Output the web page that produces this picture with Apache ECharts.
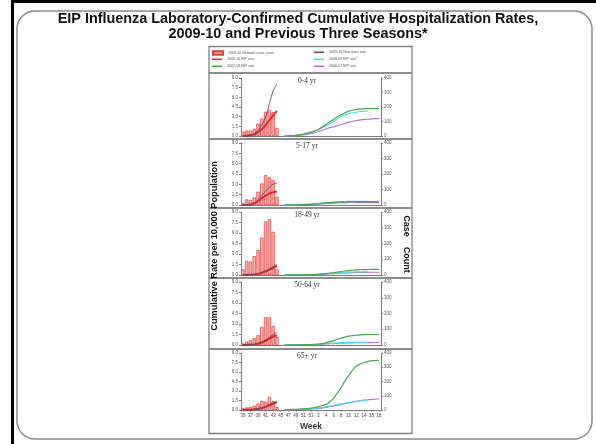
<!DOCTYPE html>
<html><head><meta charset="utf-8">
<script src="https://cdn.jsdelivr.net/npm/echarts@6/dist/echarts.min.js"></script>
<style>html,body{margin:0;padding:0;background:#fff}#c{width:596px;height:444px}</style>
</head><body><div id="c"></div>
<script>
// ---- categories (epi week) ----
const weeks = [35,36,37,38,39,40,41,42,43,44,45,46,47,48,49,50,51,52,53,1,2,3,4,5,6,7,8,9,10,11,12,13,14,15,16,17,18];
const panelTitles = ['0-4 yr','5-17 yr','18-49 yr','50-64 yr','65+ yr'];
const leftTicks = [0, 9, 1.5];   // min, max, interval (rate)
const rightTicks = [0, 400, 100]; // min, max, interval (case count)

// ---- 2009-10 season, weeks 35..44 ----
const counts04   = [30, 38, 38, 50, 86, 121, 167, 179, 165, 55];
const counts517  = [11, 36, 32, 49, 86, 139, 193, 178, 160, 53];
const counts1849 = [36, 90, 85, 120, 158, 238, 340, 354, 274, 36];
const counts5064 = [10, 21, 30, 42, 63, 116, 176, 176, 120, 53];
const counts65   = [12, 18, 23, 30, 45, 64, 58, 92, 64, 20];

const newSites04   = [0.02, 0.05, 0.12, 0.3, 0.85, 1.7, 2.9, 5.0, 7.0, 8.1];
const eip04        = [0.02, 0.05, 0.15, 0.3, 0.6, 1.05, 1.7, 2.45, 3.2, 3.9];
const newSites517  = [0.01, 0.03, 0.08, 0.24, 0.7, 1.4, 2.0, 2.6, 3.05, 3.15];
const eip517       = [0.01, 0.03, 0.08, 0.25, 0.55, 1.0, 1.35, 1.7, 1.85, 1.95];
const newSites1849 = [0.01, 0.02, 0.05, 0.1, 0.2, 0.4, 0.6, 0.9, 1.2, 1.5];
const eip1849      = [0.01, 0.02, 0.04, 0.08, 0.15, 0.3, 0.5, 0.75, 1.0, 1.3];
const newSites5064 = [0.01, 0.02, 0.05, 0.1, 0.2, 0.4, 0.75, 1.1, 1.5, 1.8];
const eip5064      = [0.01, 0.02, 0.04, 0.08, 0.18, 0.35, 0.6, 0.9, 1.2, 1.4];
const newSites65   = [0.01, 0.02, 0.05, 0.1, 0.2, 0.35, 0.55, 0.8, 1.1, 1.35];
const eip65        = [0.01, 0.02, 0.04, 0.08, 0.18, 0.3, 0.5, 0.75, 1.0, 1.25];

// ---- previous seasons, starting week 46 ----
const prevStartWeek = 46;
const s0708_04 = [0, 0.02, 0.05, 0.1, 0.2, 0.3, 0.45, 0.6, 0.8, 1.05, 1.4, 1.8, 2.2, 2.6, 3.0, 3.3, 3.6, 3.85, 4.0, 4.1, 4.2, 4.22, 4.25, 4.25, 4.25, 4.25];
const s0809_04 = [0, 0.02, 0.05, 0.1, 0.2, 0.3, 0.4, 0.55, 0.75, 1.0, 1.3, 1.6, 1.9, 2.3, 2.7, 3.05, 3.3, 3.5, 3.6, 3.7, 3.8, 3.82, 3.85];
const s0607_04 = [0, 0.02, 0.04, 0.08, 0.12, 0.18, 0.25, 0.35, 0.5, 0.7, 0.9, 1.1, 1.3, 1.45, 1.6, 1.8, 1.95, 2.15, 2.3, 2.4, 2.5, 2.55, 2.6, 2.65, 2.7, 2.7];
const s0708_517 = [0, 0.01, 0.02, 0.03, 0.05, 0.07, 0.1, 0.13, 0.17, 0.21, 0.26, 0.31, 0.35, 0.39, 0.42, 0.45, 0.47, 0.48, 0.49, 0.5, 0.5, 0.5, 0.5, 0.5, 0.5, 0.5];
const s0809_517 = [0, 0.01, 0.02, 0.03, 0.05, 0.07, 0.1, 0.13, 0.17, 0.22, 0.28, 0.33, 0.38, 0.42, 0.46, 0.49, 0.51, 0.53, 0.54, 0.55, 0.55, 0.55, 0.55];
const s0607_517 = [0, 0.01, 0.01, 0.02, 0.03, 0.05, 0.07, 0.09, 0.12, 0.15, 0.18, 0.21, 0.24, 0.26, 0.28, 0.3, 0.31, 0.32, 0.33, 0.34, 0.34, 0.35, 0.35, 0.35, 0.35, 0.35];
const s0708_1849 = [0, 0.01, 0.01, 0.02, 0.03, 0.04, 0.05, 0.07, 0.09, 0.12, 0.16, 0.21, 0.27, 0.34, 0.42, 0.5, 0.57, 0.63, 0.68, 0.72, 0.75, 0.77, 0.78, 0.79, 0.8, 0.8];
const s0809_1849 = [0, 0.01, 0.01, 0.02, 0.03, 0.04, 0.05, 0.07, 0.09, 0.12, 0.16, 0.2, 0.24, 0.28, 0.32, 0.36, 0.39, 0.41, 0.43, 0.44, 0.45, 0.45, 0.45];
const s0607_1849 = [0, 0.01, 0.01, 0.02, 0.02, 0.03, 0.04, 0.05, 0.07, 0.09, 0.11, 0.14, 0.17, 0.2, 0.23, 0.26, 0.29, 0.31, 0.33, 0.35, 0.36, 0.37, 0.38, 0.39, 0.4, 0.4];
const s0708_5064 = [0, 0.01, 0.01, 0.02, 0.03, 0.04, 0.05, 0.07, 0.1, 0.14, 0.2, 0.3, 0.45, 0.62, 0.8, 0.98, 1.13, 1.26, 1.35, 1.42, 1.46, 1.48, 1.5, 1.5, 1.5, 1.5];
const s0809_5064 = [0, 0.01, 0.01, 0.02, 0.03, 0.04, 0.05, 0.07, 0.09, 0.12, 0.15, 0.19, 0.23, 0.27, 0.31, 0.34, 0.36, 0.38, 0.39, 0.4, 0.4, 0.4, 0.4];
const s0607_5064 = [0, 0.01, 0.01, 0.02, 0.02, 0.03, 0.04, 0.05, 0.07, 0.09, 0.11, 0.14, 0.17, 0.2, 0.23, 0.26, 0.28, 0.3, 0.31, 0.32, 0.33, 0.34, 0.34, 0.35, 0.35, 0.35];
const s0708_65 = [0.05, 0.08, 0.1, 0.12, 0.15, 0.18, 0.22, 0.3, 0.4, 0.55, 0.7, 0.9, 1.3, 1.9, 2.7, 3.6, 4.6, 5.5, 6.3, 6.9, 7.25, 7.5, 7.65, 7.75, 7.8, 7.85];
const s0809_65 = [0.02, 0.04, 0.06, 0.08, 0.1, 0.13, 0.16, 0.2, 0.25, 0.32, 0.4, 0.5, 0.62, 0.75, 0.87, 0.98, 1.08, 1.18, 1.27, 1.36, 1.45, 1.53, 1.6];
const s0607_65 = [0.01, 0.02, 0.03, 0.05, 0.07, 0.09, 0.12, 0.15, 0.2, 0.26, 0.33, 0.42, 0.52, 0.64, 0.76, 0.88, 1.0, 1.12, 1.24, 1.36, 1.47, 1.56, 1.63, 1.68, 1.72, 1.75];

const panels = [
  {counts: counts04,   ns: newSites04,   eip: eip04,   a: s0809_04,   b: s0708_04,   c: s0607_04},
  {counts: counts517,  ns: newSites517,  eip: eip517,  a: s0809_517,  b: s0708_517,  c: s0607_517},
  {counts: counts1849, ns: newSites1849, eip: eip1849, a: s0809_1849, b: s0708_1849, c: s0607_1849},
  {counts: counts5064, ns: newSites5064, eip: eip5064, a: s0809_5064, b: s0708_5064, c: s0607_5064},
  {counts: counts65,   ns: newSites65,   eip: eip65,   a: s0809_65,   b: s0708_65,   c: s0607_65}
];

const gridBoxes = [[78,58],[143,62],[212,63],[282,63],[353,57]];
const N_BAR = '2009-10 Network case count', N_NS = '2009-10 New sites rate', N_EIP = '2009-10 EIP rate',
      N_A = '2008-09 EIP rate*', N_B = '2007-08 EIP rate', N_C = '2006-07 EIP rate';
const C_RED = '#e8262c', C_NS = '#555555', C_A = '#3fe3ef', C_B = '#47a84c', C_C = '#b36fcb';

const prevIdx = weeks.indexOf(prevStartWeek);
const pad = (arr, n) => Array(n).fill(null).concat(arr);

const grid = [], xAxis = [], yAxis = [], series = [], title = [];
title.push({text: 'EIP Influenza Laboratory-Confirmed Cumulative Hospitalization Rates,\n2009-10 and Previous Three Seasons*',
  left: 'center', top: 11, padding: 0,
  textStyle: {fontFamily: 'Liberation Sans, Arial', fontWeight: 'bold', fontSize: 14.4, lineHeight: 15.5, color: '#111'}});
const axisGray = '#7a7a7a';
panels.forEach((p, i) => {
  const [top, h] = gridBoxes[i];
  const last = i === panels.length - 1;
  grid.push({left: 241, width: 140, top: top, height: h, containLabel: false});
  title.push({text: panelTitles[i], left: 307, top: top - 0.5, textAlign: 'center', padding: 0,
    textStyle: {fontFamily: 'Liberation Serif, serif', fontWeight: 'normal', fontSize: 7.5, color: '#333'}});
  xAxis.push({type: 'category', gridIndex: i, data: weeks, boundaryGap: true,
    axisLine: {lineStyle: {color: axisGray, width: 1}},
    axisTick: {show: last, interval: 1, alignWithLabel: true, length: 1.5, lineStyle: {color: axisGray}},
    axisLabel: {show: last, interval: 1, fontSize: 4.5, color: '#444', margin: 3, fontFamily: 'Liberation Sans'},
    name: last ? 'Week' : '', nameLocation: 'middle', nameGap: 12,
    nameTextStyle: {fontFamily: 'Liberation Sans', fontWeight: 'bold', fontSize: 8.5, color: '#333'}});
  yAxis.push({type: 'value', gridIndex: i, position: 'left', min: leftTicks[0], max: leftTicks[1], interval: leftTicks[2],
    axisLine: {show: true, lineStyle: {color: axisGray}}, axisTick: {show: true, length: 2, lineStyle: {color: axisGray}},
    splitLine: {show: false},
    axisLabel: {fontSize: 4.5, color: '#555', margin: 3, formatter: v => v.toFixed(1), fontFamily: 'Liberation Sans'}});
  yAxis.push({type: 'value', gridIndex: i, position: 'right', min: rightTicks[0], max: rightTicks[1], interval: rightTicks[2],
    axisLine: {show: true, lineStyle: {color: axisGray}}, axisTick: {show: true, length: 2, lineStyle: {color: axisGray}},
    splitLine: {show: false},
    axisLabel: {fontSize: 4.5, color: '#555', margin: 3, fontFamily: 'Liberation Sans'}});
  const xi = i, yl = i * 2, yr = i * 2 + 1;
  series.push({name: N_BAR, type: 'bar', xAxisIndex: xi, yAxisIndex: yr, data: p.counts, barCategoryGap: '12%',
    itemStyle: {color: '#f6b2b2', borderColor: '#e23b3b', borderWidth: 0.7}, z: 1});
  const ln = (name, data, color, width, z) => ({name, type: 'line', xAxisIndex: xi, yAxisIndex: yl, data,
    showSymbol: false, symbol: 'none', smooth: 0.3, lineStyle: {color, width}, itemStyle: {color}, z});
  series.push(ln(N_C, pad(p.c, prevIdx), C_C, 1.1, 2));
  series.push(ln(N_A, pad(p.a, prevIdx), C_A, 1.1, 3));
  series.push(ln(N_B, pad(p.b, prevIdx), C_B, 1.2, 4));
  series.push(ln(N_EIP, p.eip, C_RED, 2, 5));
  series.push(ln(N_NS, p.ns, C_NS, 0.9, 6));
});

// legend: two columns, three aligned rows
const lgText = {fontSize: 3.6, color: '#555', fontFamily: 'Liberation Sans'};
const legendRows = [52.5, 59.5, 66.5];
const legendCols = [212, 314];
const legendLayout = [[N_BAR, 0, 0], [N_EIP, 0, 1], [N_B, 0, 2], [N_NS, 1, 0], [N_A, 1, 1], [N_C, 1, 2]];
const legend = legendLayout.map(([name, c, r]) => ({
  data: [{name, icon: 'rect'}], left: legendCols[c], top: legendRows[r] - 2.2, padding: 0,
  itemWidth: 10, itemHeight: name === N_BAR ? 3.5 : 1.6, itemGap: 3, textStyle: lgText}));

const sepY = [73, 139, 208, 278, 349];
const graphic = [
  {type: 'line', shape: {x1: 12, y1: 1.5, x2: 596, y2: 1.5}, style: {stroke: '#000', lineWidth: 3}, silent: true, z: -8},
  {type: 'line', shape: {x1: 12.5, y1: 0, x2: 12.5, y2: 444}, style: {stroke: '#000', lineWidth: 3}, silent: true, z: -8},
  {type: 'rect', shape: {x: 17, y: 11, width: 575, height: 428, r: 18}, style: {fill: '#fff', stroke: '#8a8a8a', lineWidth: 1.5}, silent: true, z: -9},
  {type: 'rect', shape: {x: 209, y: 46.5, width: 203, height: 387}, style: {fill: 'none', stroke: '#808080', lineWidth: 1.3}, silent: true, z: 20},
  ...sepY.map(y => ({type: 'line', shape: {x1: 209, y1: y, x2: 412, y2: y}, style: {stroke: '#8c8c8c', lineWidth: 1.8}, silent: true, z: 20})),
  {type: 'text', x: 214, y: 246, rotation: Math.PI / 2, style: {text: 'Cumulative Rate per 10,000 Population', fontSize: 9.2, fontWeight: 'bold', fontFamily: 'Liberation Sans', fill: '#111', align: 'center', verticalAlign: 'middle'}, z: 20},
  {type: 'text', x: 406, y: 244, rotation: -Math.PI / 2, style: {text: 'Case    Count', fontSize: 9, fontWeight: 'bold', fontFamily: 'Liberation Sans', fill: '#111', align: 'center', verticalAlign: 'middle'}, z: 20}
];

const chart = echarts.init(document.getElementById('c'), null, {renderer: 'canvas'});
chart.setOption({animation: false, backgroundColor: '#fff', title, grid, xAxis, yAxis, series, legend, graphic});
</script></body></html>
